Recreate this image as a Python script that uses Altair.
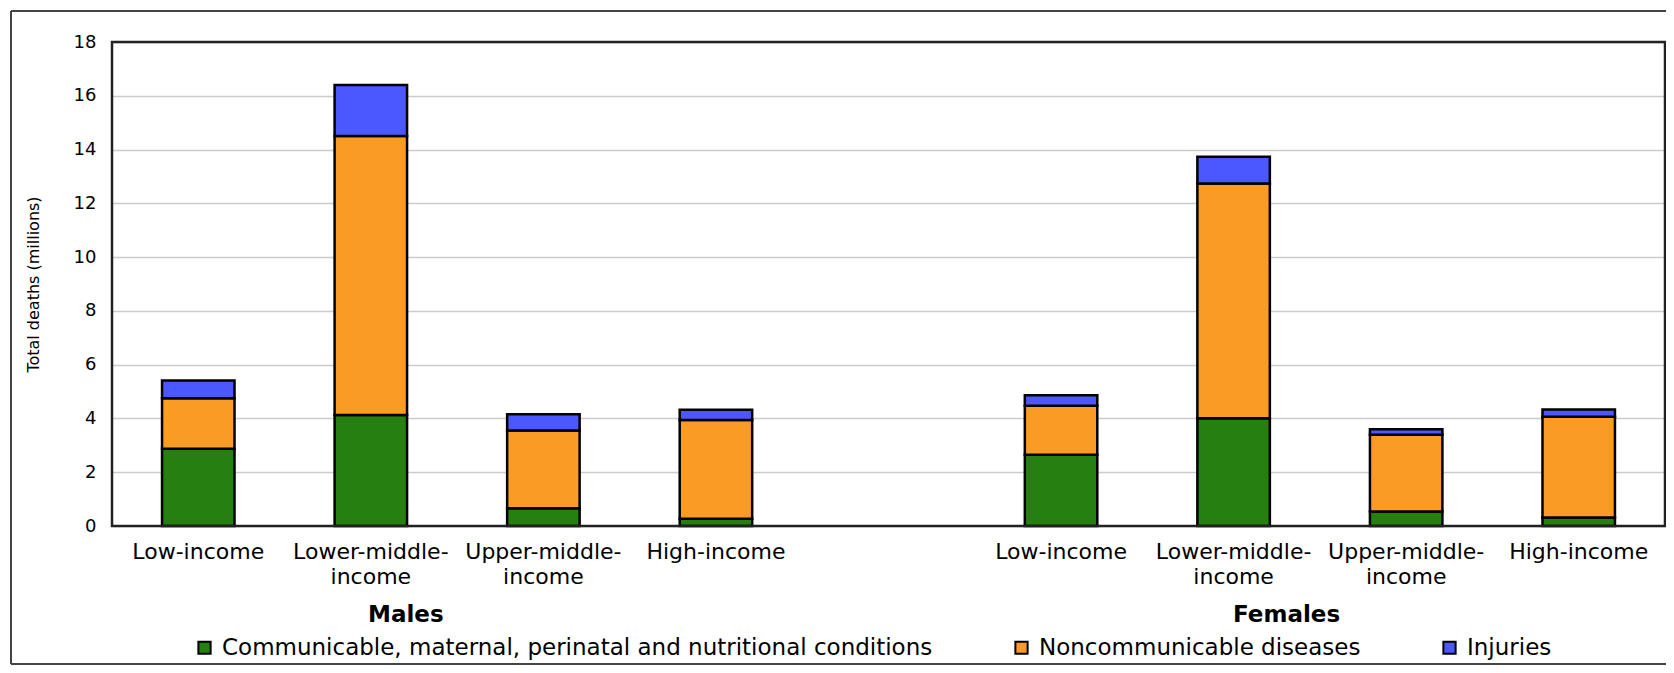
import json
import altair as alt
import pandas as pd

# ---------------- data ----------------
slots = ["m1", "m2", "m3", "m4", "gap", "f1", "f2", "f3", "f4"]
bar_slots = ["m1", "m2", "m3", "m4", "f1", "f2", "f3", "f4"]
slot_labels = [
    ["Low-income"], ["Lower-middle-", "income"], ["Upper-middle-", "income"], ["High-income"],
    [""],
    ["Low-income"], ["Lower-middle-", "income"], ["Upper-middle-", "income"], ["High-income"],
]
categories = [
    "Communicable, maternal, perinatal and nutritional conditions",
    "Noncommunicable diseases",
    "Injuries",
]
colors = ["#25800f", "#f99b24", "#4b58ff"]
communicable = [2.87, 4.13, 0.66, 0.27, 2.65, 4.01, 0.54, 0.32]
noncommunicable = [1.88, 10.37, 2.89, 3.67, 1.82, 8.73, 2.85, 3.74]
injuries = [0.66, 1.90, 0.61, 0.38, 0.39, 0.99, 0.21, 0.27]
group_labels = ["Males", "Females"]
group_anchor = ["m2", "f2"]

rows = []
for i, s in enumerate(bar_slots):
    for k, (cat, vals) in enumerate(zip(categories, [communicable, noncommunicable, injuries])):
        rows.append({"slot": s, "cause": cat, "deaths": vals[i], "ord": k})
df = pd.DataFrame(rows)

W, H = 1553, 484
FONT = "DejaVu Sans"

label_map = json.dumps(dict(zip(slots, slot_labels))).replace('"', "'")

x_enc = alt.X(
    "slot:N",
    scale=alt.Scale(domain=slots, paddingInner=0.58, paddingOuter=0.29),
    axis=alt.Axis(
        title=None, ticks=False, domain=False, grid=False, labelAngle=0,
        labelExpr=f"{label_map}[datum.value]",
        labelFont=FONT, labelFontSize=22, labelColor="#000", labelPadding=15,
        labelLineHeight=25, labelLimit=400,
    ),
)

bars = alt.Chart(df).mark_bar(stroke="#000", strokeWidth=2.5).encode(
    x=x_enc,
    y=alt.Y(
        "deaths:Q",
        stack="zero",
        scale=alt.Scale(domain=[0, 18], nice=False),
        axis=alt.Axis(
            title="Total deaths (millions)", values=list(range(0, 19, 2)),
            ticks=False, domain=False, gridColor="#cccccc", gridWidth=1.5,
            labelFont=FONT, labelFontSize=18, labelColor="#000", labelPadding=16,
            titleFont=FONT, titleFontSize=16, titleFontWeight="normal", titleColor="#000",
            titlePadding=32,
        ),
    ),
    color=alt.Color(
        "cause:N",
        scale=alt.Scale(domain=categories, range=colors),
        legend=alt.Legend(
            title=None, orient="none", legendX=81, legendY=594, direction="horizontal",
            columns=3, symbolType="square", symbolSize=150, symbolStrokeColor="#000",
            symbolStrokeWidth=2, labelFont=FONT, labelFontSize=23, labelColor="#000",
            labelLimit=1000, columnPadding=77, labelOffset=6, padding=0,
        ),
    ),
    order=alt.Order("ord:Q"),
)

one = pd.DataFrame({"a": [0]})
frame = alt.Chart(one).mark_rect(fill=None, stroke="#222", strokeWidth=2.5).encode(
    x=alt.value(0), x2=alt.value(W), y=alt.value(0), y2=alt.value(H))

gdf_m = pd.DataFrame({"slot": group_anchor[:1], "label": group_labels[:1]})
gdf_f = pd.DataFrame({"slot": group_anchor[1:], "label": group_labels[1:]})
males = alt.Chart(gdf_m).mark_text(
    font=FONT, fontSize=23, fontWeight="bold", color="#000", dx=35, baseline="middle"
).encode(x=alt.X("slot:N"), y=alt.value(H + 89), text="label:N")
females = alt.Chart(gdf_f).mark_text(
    font=FONT, fontSize=23, fontWeight="bold", color="#000", dx=53, baseline="middle"
).encode(x=alt.X("slot:N"), y=alt.value(H + 89), text="label:N")

top_border = alt.Chart(one).mark_rule(color="#444", strokeWidth=2).encode(
    x=alt.value(-101), x2=alt.value(W + 1), y=alt.value(-31))
left_border = alt.Chart(one).mark_rule(color="#444", strokeWidth=2).encode(
    x=alt.value(-101), y=alt.value(-31), y2=alt.value(H + 138))
bottom_border = alt.Chart(one).mark_rule(color="#444", strokeWidth=2).encode(
    x=alt.value(-101), x2=alt.value(W + 1), y=alt.value(H + 138))

chart = alt.layer(bars, frame, males, females, top_border, left_border, bottom_border).properties(
    width=W, height=H,
    autosize=alt.AutoSizeParams(type="none"),
    padding={"left": 104, "top": 34, "right": 1, "bottom": 139},
).configure_view(stroke=None).configure(background="white")

chart.save("out.html", embed_options={"renderer": "svg", "actions": False})
